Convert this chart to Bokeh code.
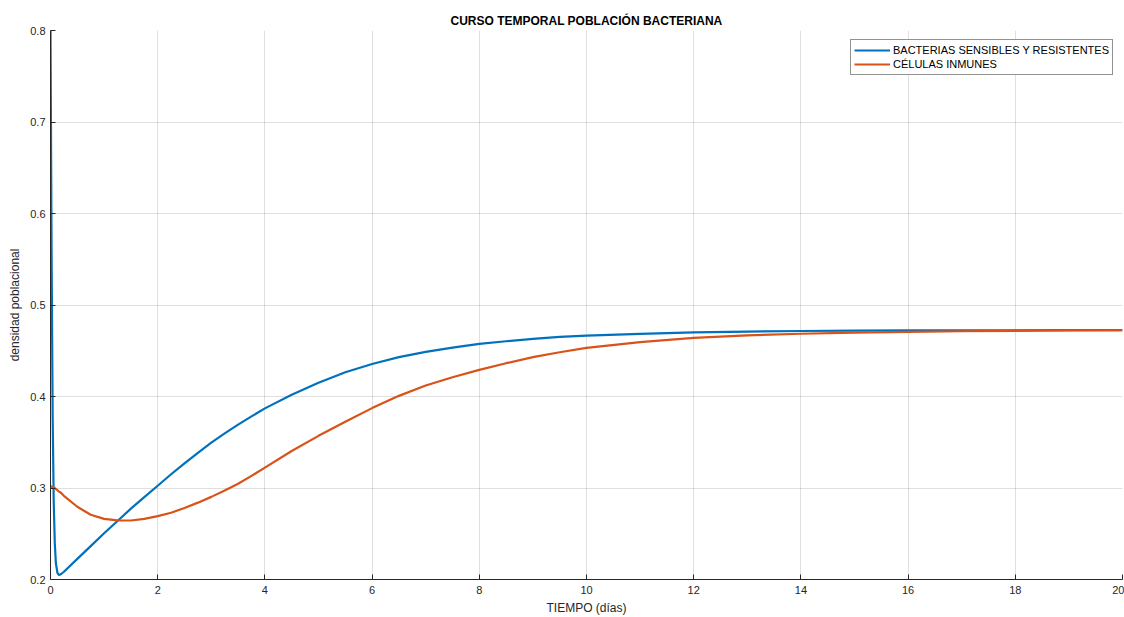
from bokeh.plotting import figure
from bokeh.models import Range1d, FixedTicker, Legend, LegendItem
from bokeh.embed import file_html
from bokeh.resources import INLINE

# Time points (days) and population densities
tiempo = [0, 0.02, 0.04, 0.06, 0.08, 0.10, 0.13, 0.16, 0.2,
          0.25, 0.5, 0.75, 1.0, 1.25, 1.5, 1.75, 2.0, 2.25, 2.5, 2.75,
          3.0, 3.25, 3.5, 3.75, 4.0,
          4.5, 5.0, 5.5, 6.0, 6.5, 7.0, 7.5, 8.0, 8.5, 9.0, 9.5, 10,
          11, 12, 13, 14, 15, 16, 17, 18, 19, 20]

bacterias = [0.800, 0.560, 0.380, 0.285, 0.240, 0.218, 0.207, 0.205, 0.206,
             0.2085, 0.2225, 0.2365, 0.2505, 0.264, 0.2775, 0.290, 0.3025,
             0.315, 0.327, 0.3385, 0.3495, 0.3597, 0.3692, 0.3783, 0.387,
             0.402, 0.415, 0.4265, 0.4355, 0.443, 0.4487, 0.4534, 0.4575,
             0.4604, 0.463, 0.4651, 0.4665,
             0.4685, 0.470, 0.471, 0.4716, 0.472, 0.4722, 0.4723, 0.4724,
             0.4725, 0.4725]

inmunes = [0.302, 0.3015, 0.301, 0.3005, 0.300, 0.299, 0.2975, 0.296, 0.2945,
           0.2915, 0.2795, 0.2707, 0.2663, 0.2647, 0.2645, 0.2662, 0.2692,
           0.273, 0.2782, 0.284, 0.2903, 0.2972, 0.3046, 0.3132, 0.3222,
           0.3405, 0.357, 0.3725, 0.3873, 0.4007, 0.412, 0.4211, 0.4291,
           0.4364, 0.443, 0.4484, 0.4531,
           0.4595, 0.464, 0.4668, 0.4686, 0.4698, 0.4707, 0.4713, 0.4718,
           0.4722, 0.4724]

x_ticks = [0, 2, 4, 6, 8, 10, 12, 14, 16, 18, 20]
y_ticks = [0.2, 0.3, 0.4, 0.5, 0.6, 0.7, 0.8]

FONT = "Liberation Sans"
AX = "#262626"

p = figure(width=1124, height=617, output_backend="svg", toolbar_location=None,
           x_range=Range1d(0, 20), y_range=Range1d(0.2, 0.8),
           min_border_left=50, min_border_right=2, min_border_top=30,
           min_border_bottom=37, title="CURSO TEMPORAL POBLACIÓN BACTERIANA")

p.outline_line_color = None
p.background_fill_color = "white"
p.border_fill_color = "white"

p.title.align = "center"
p.title.text_font = FONT
p.title.text_font_size = "12px"
p.title.text_font_style = "bold"
p.title.text_color = "black"
p.title.offset = 0
p.title.standoff = 6

for ax in (p.xaxis[0], p.yaxis[0]):
    ax.axis_line_color = AX
    ax.axis_line_width = 1
    ax.major_tick_line_color = AX
    ax.major_tick_in = 5
    ax.major_tick_out = 0
    ax.minor_tick_line_color = None
    ax.major_label_text_font = FONT
    ax.major_label_text_font_size = "11px"
    ax.major_label_text_color = AX
    ax.axis_label_text_font = FONT
    ax.axis_label_text_font_size = "12px"
    ax.axis_label_text_font_style = "normal"
    ax.axis_label_text_color = AX

p.xaxis.ticker = FixedTicker(ticks=x_ticks)
p.yaxis.ticker = FixedTicker(ticks=y_ticks)
p.xaxis.axis_label = "TIEMPO (días)"
p.yaxis.axis_label = "densidad poblacional"
p.xaxis.major_label_standoff = 6
p.xaxis.axis_label_standoff = 4
p.yaxis.major_label_standoff = 5
p.yaxis.axis_label_standoff = 5

p.grid.grid_line_color = AX
p.grid.grid_line_alpha = 0.15
p.grid.grid_line_width = 1
p.xgrid.ticker = FixedTicker(ticks=x_ticks)
p.ygrid.ticker = FixedTicker(ticks=y_ticks)

r1 = p.line(tiempo, bacterias, line_color="#0072BD", line_width=2.2,
            line_join="round")
r2 = p.line(tiempo, inmunes, line_color="#D95319", line_width=2.2,
            line_join="round")

legend = Legend(items=[
    LegendItem(label="BACTERIAS SENSIBLES Y RESISTENTES", renderers=[r1]),
    LegendItem(label="CÉLULAS INMUNES", renderers=[r2]),
], location="top_right")
legend.margin = 9
legend.padding = 3
legend.spacing = 0
legend.glyph_width = 36
legend.glyph_height = 14
legend.label_height = 14
legend.label_standoff = 3
legend.label_text_font = FONT
legend.label_text_font_size = "11px"
legend.label_text_color = "black"
legend.border_line_color = AX
legend.border_line_width = 1
legend.background_fill_color = "white"
legend.background_fill_alpha = 1
p.add_layout(legend)

open("out.html", "w").write(file_html(p, INLINE))
